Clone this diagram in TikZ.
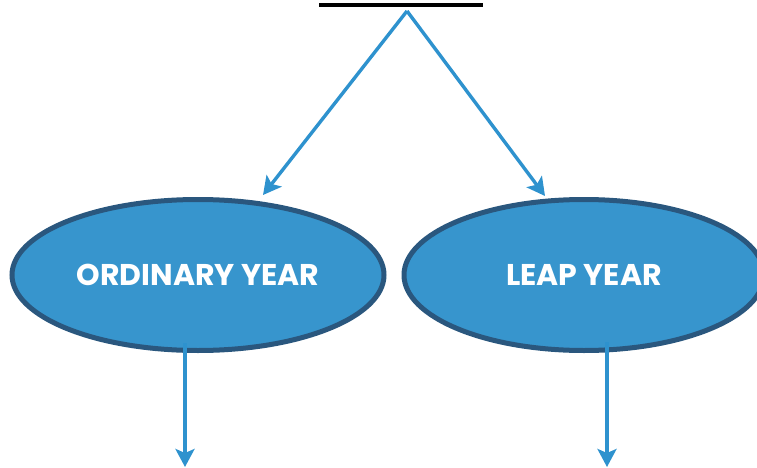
\documentclass[tikz,border=0pt]{standalone}
\usepackage{fontspec}
\setmainfont{Poppins}
\usetikzlibrary{shapes.geometric,arrows.meta}
\definecolor{yearfill}{HTML}{3795CD}
\definecolor{yearline}{HTML}{2A577E}
\definecolor{arrowblue}{HTML}{2E92CE}

\begin{document}
\begin{tikzpicture}[x=1pt,y=-1pt,
  year/.style={ellipse,draw=yearline,fill=yearfill,line width=5pt,minimum width=372pt,minimum height=151pt,inner sep=0pt,text=white,font=\bfseries\fontsize{30}{30}\selectfont},
  link/.style={draw=arrowblue,line width=3.4pt,-{Stealth[length=18pt,width=19pt,inset=4pt]}}]
\useasboundingbox (0,0) rectangle (757,468);
\draw[line width=3.5pt] (319,5)--(483,5);
\coordinate (top) at (407,11);

\node[year] (ordinary) at (198,275) {ORDINARY YEAR};
\node[year,minimum width=360pt] (leap) at (584,275) {LEAP YEAR};

\coordinate (ordtip) at (263,195);
\coordinate (leaptip) at (545,196);
\coordinate (ordin) at (185,343);
\coordinate (leapin) at (607,342);
\coordinate (ordout) at (185,467);
\coordinate (leapout) at (607,467);

\draw[link] (top) -- (ordtip);
\draw[link] (top) -- (leaptip);
\draw[link] (ordin) -- (ordout);
\draw[link] (leapin) -- (leapout);
\end{tikzpicture}
\end{document}
